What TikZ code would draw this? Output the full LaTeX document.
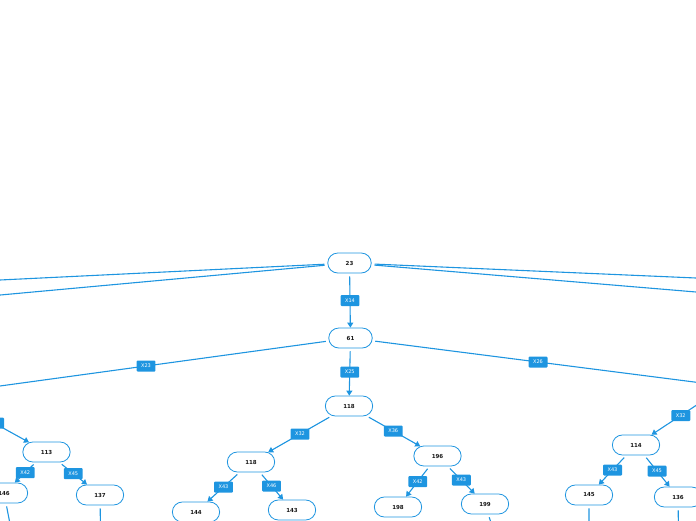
\documentclass[tikz,border=0pt]{standalone}
\usepackage{fontspec}
\setmainfont{DejaVu Sans}
\usetikzlibrary{arrows.meta,shapes.misc,calc}
\definecolor{mmblue}{HTML}{1E95E0}
\begin{document}
\begin{tikzpicture}[x=1pt,y=-1pt,
  topic/.style={rounded rectangle, draw=mmblue, line width=0.8pt, fill=white,
    font=\fontsize{5.5}{6}\selectfont\bfseries, text=black!90,
    inner xsep=17.7pt, inner ysep=0pt, minimum height=20pt},
  conn/.style={draw=mmblue, line width=1.1pt, shorten <=3pt,
    -{Triangle[length=5pt,width=6pt]}},
  lbl/.style={fill=mmblue, text=white, rounded corners=1pt,
    font=\fontsize{5}{6}\selectfont, inner xsep=4.6pt, inner ysep=0pt,
    minimum height=11pt}]
\useasboundingbox (0,0) rectangle (696,520);
\clip (0,0) rectangle (696,520);

% visible topics
\node[topic] (n23)  at (349.5,263) {23};
\node[topic] (n61)  at (350.5,338) {61};
\node[topic] (n118a) at (349,406) {118};
\node[topic] (n118b) at (251,462) {118};
\node[topic] (n144) at (196,512) {144};
\node[topic] (n143) at (292,510) {143};
\node[topic] (n196) at (437.5,456) {196};
\node[topic] (n198) at (398,507) {198};
\node[topic] (n199) at (485,504) {199};
\node[topic] (n114) at (636,445) {114};
\node[topic] (n145) at (589,495) {145};
\node[topic] (n136) at (678,497) {136};
\node[topic] (n113) at (46.5,452) {113};
\node[topic] (n146) at (4,493) {146};
\node[topic] (n137) at (100,495) {137};

% topics lying outside the visible area
\coordinate (L1) at (-1193,338);
\coordinate (L2) at (-469,338);
\coordinate (R1) at (2082,338);
\coordinate (R2) at (1246,338);
\coordinate (Lx) at (-58.5,394);
\coordinate (Rx) at (725.5,386);
\coordinate (c146) at (18,565);
\coordinate (c137) at (101,565);
\coordinate (c199) at (506,570);
\coordinate (c145) at (589,565);
\coordinate (c136) at (679,567);

% connectors
\draw[conn] (n23) -- (L1);
\draw[conn] (n23) -- (L2);
\draw[conn] (n23) -- (R1);
\draw[conn] (n23) -- (R2);
\draw[conn] (n23) -- (n61) node[lbl,midway] {X14};
\draw[conn] (n61) -- (Lx);
\node[lbl] at ($(n61)!0.5!(Lx)$) {X23};
\draw[conn] (n61) -- (Rx);
\node[lbl] at ($(n61)!0.5!(Rx)$) {X26};
\draw[conn] (n61) -- (n118a) node[lbl,midway] {X25};
\draw[conn] (n118a) -- (n118b) node[lbl,midway] {X32};
\draw[conn] (n118a) -- (n196) node[lbl,midway] {X36};
\draw[conn] (n118b) -- (n144) node[lbl,midway] {X43};
\draw[conn] (n118b) -- (n143) node[lbl,midway] {X46};
\draw[conn] (n196) -- (n198) node[lbl,midway] {X42};
\draw[conn] (n196) -- (n199) node[lbl,midway] {X43};
\draw[conn] (Lx) -- (n113);
\node[lbl, minimum width=20pt] at ($(Lx)!0.5!(n113)$) {};
\draw[conn] (n113) -- (n146) node[lbl,midway] {X42};
\draw[conn] (n113) -- (n137) node[lbl,midway] {X45};
\draw[conn] (Rx) -- (n114);
\node[lbl] at ($(Rx)!0.5!(n114)$) {X32};
\draw[conn] (n114) -- (n145) node[lbl,midway] {X43};
\draw[conn] (n114) -- (n136) node[lbl,midway] {X45};
\draw[conn] (n146) -- (c146);
\draw[conn] (n137) -- (c137);
\draw[conn] (n199) -- (c199);
\draw[conn] (n145) -- (c145);
\draw[conn] (n136) -- (c136);
\end{tikzpicture}
\end{document}
